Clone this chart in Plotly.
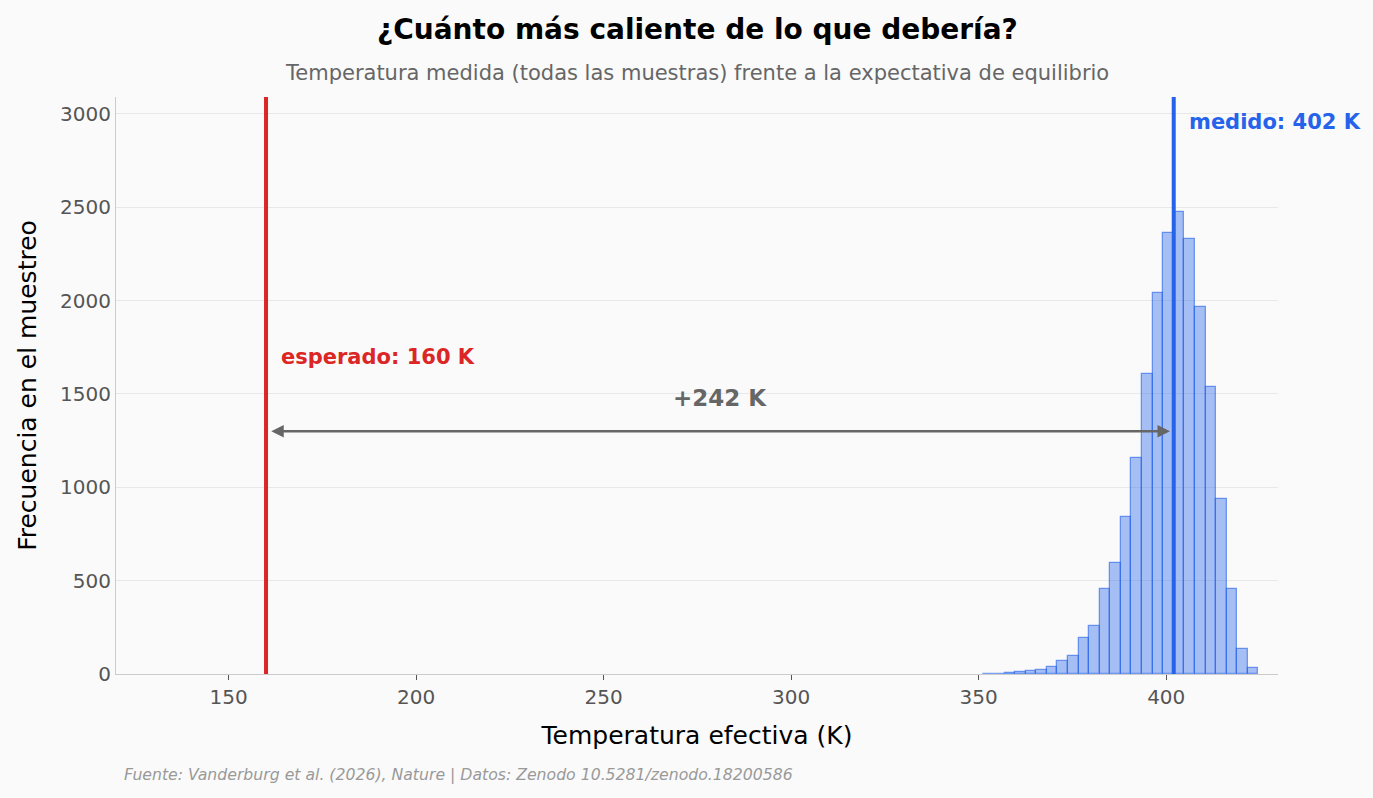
import plotly.graph_objects as go

# ---- data ----
bin_start = 351.25
bin_width = 2.82
counts = [1, 2, 4, 9, 14, 20, 39, 68, 98, 194, 258, 455, 595, 841, 1157,
          1606, 2039, 2364, 2472, 2328, 1964, 1536, 937, 455, 134, 32]
expected_temp = 160
measured_temp = 402
x_ticks = [150, 200, 250, 300, 350, 400]
y_ticks = [0, 500, 1000, 1500, 2000, 2500, 3000]

centers = [bin_start + bin_width * (i + 0.5) for i in range(len(counts))]

RED = "#dc2626"
BLUE = "#2563eb"
GREY = "#666666"
BG = "#fafafa"

fig = go.Figure()
fig.add_trace(go.Bar(
    x=centers, y=counts, width=bin_width,
    marker=dict(color="rgba(37,99,235,0.40)",
                line=dict(color="rgba(37,99,235,0.6)", width=1.3)),
    hoverinfo="x+y", showlegend=False,
))

fig.add_shape(type="line", x0=expected_temp, x1=expected_temp, y0=0, y1=1,
              xref="x", yref="paper", line=dict(color=RED, width=4))
fig.add_shape(type="line", x0=measured_temp, x1=measured_temp, y0=0, y1=1,
              xref="x", yref="paper", line=dict(color=BLUE, width=4))

diff = measured_temp - expected_temp
arrow_y = 1300
fig.add_annotation(x=measured_temp - 1, y=arrow_y, ax=expected_temp + 1, ay=arrow_y,
                   xref="x", yref="y", axref="x", ayref="y", text="",
                   showarrow=True, arrowhead=2, arrowside="end+start",
                   arrowsize=1, arrowwidth=2.5, arrowcolor=GREY)
fig.add_annotation(x=(expected_temp + measured_temp) / 2, y=arrow_y + 100,
                   xref="x", yref="y", text=f"<b>+{diff} K</b>", showarrow=False,
                   font=dict(size=23, color=GREY), yanchor="bottom")
fig.add_annotation(x=expected_temp + 3.5, y=1695, xref="x", yref="y",
                   text=f"<b>esperado: {expected_temp} K</b>", showarrow=False,
                   xanchor="left", yanchor="middle", font=dict(size=21, color=RED))
fig.add_annotation(x=measured_temp + 3.5, y=2955, xref="x", yref="y",
                   text=f"<b>medido: {measured_temp} K</b>", showarrow=False,
                   xanchor="left", yanchor="middle", font=dict(size=21, color=BLUE))

# title & subtitle
fig.add_annotation(x=0.5, y=29, xref="paper", yref="paper",
                   text="<b>¿Cuánto más caliente de lo que debería?</b>",
                   showarrow=False, xanchor="center", yanchor="middle",
                   font=dict(size=28, color="#000000"))
fig.add_annotation(x=0.5, y=73, xref="paper", yref="paper",
                   text="Temperatura medida (todas las muestras) frente a la expectativa de equilibrio",
                   showarrow=False, xanchor="center", yanchor="middle",
                   font=dict(size=21, color=GREY))

fig.add_annotation(x=0, y=-0.175, xref="paper", yref="paper", xshift=6,
                   text="<i>Fuente: Vanderburg et al. (2026), Nature | Datos: Zenodo 10.5281/zenodo.18200586</i>",
                   showarrow=False, xanchor="left", yanchor="middle",
                   font=dict(size=15.7, color="#999999"))

# convert title pixel positions to paper coords
plot_top, plot_h = 97, 798 - 97 - 124
for ann in fig.layout.annotations[-3:-1]:
    ann.y = (plot_top + plot_h - ann.y) / plot_h

fig.update_layout(
    width=1373, height=798,
    paper_bgcolor=BG, plot_bgcolor=BG,
    margin=dict(l=116, r=95, t=97, b=124),
    font=dict(family="DejaVu Sans, sans-serif", color="#555555"),
    bargap=0,
    xaxis=dict(range=[120, 429.8], tickvals=x_ticks, showgrid=False,
               showline=True, linecolor="#cccccc", linewidth=1,
               ticks="outside", tickcolor="#555555", ticklen=5,
               tickfont=dict(size=20, color="#555555"),
               title=dict(text="Temperatura efectiva (K)", font=dict(size=25, color="#000000"), standoff=18),
               zeroline=False),
    yaxis=dict(range=[0, 3090], tickvals=y_ticks, showgrid=True, gridcolor="#e8e8e8",
               showline=True, linecolor="#cccccc", linewidth=1, ticks="",
               tickfont=dict(size=20, color="#555555"),
               title=dict(text="Frecuencia en el muestreo", font=dict(size=25, color="#000000"), standoff=16),
               zeroline=False),
)

fig.write_html("out.html")
